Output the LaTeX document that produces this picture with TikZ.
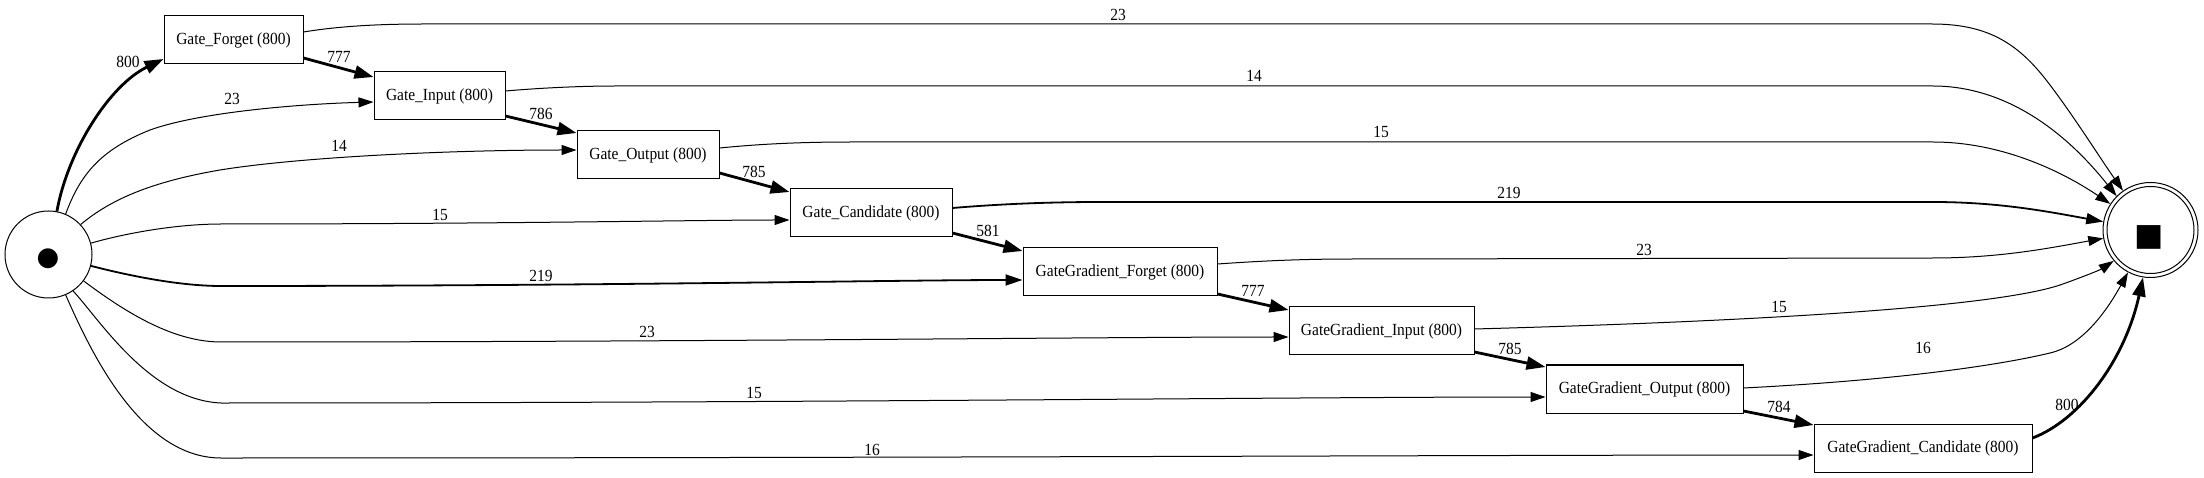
\documentclass[tikz,border=0pt]{standalone}
\usepackage{fontspec}
\setmainfont{Liberation Serif}[FakeStretch=0.91]
\newfontfamily\symfont{DejaVu Sans}
\usetikzlibrary{calc,arrows.meta}
\tikzset{
  bx/.style={draw, line width=1pt, rectangle, minimum height=48pt, inner sep=0pt, minimum width=#1, font=\fontsize{17}{20}\selectfont},
  lb/.style={inner sep=0pt, font=\fontsize{17}{20}\selectfont},
  e/.style={line width=1pt, -{Triangle[length=15pt,width=10pt]}},
  emed/.style={line width=1.8pt, -{Triangle[length=17pt,width=11pt]}},
  ethick/.style={line width=2.8pt, -{Triangle[length=19pt,width=13pt]}},
}
\begin{document}
\begin{tikzpicture}[x=1pt,y=-1pt]
\useasboundingbox (0,0) rectangle (2204,478);
% places
\node[circle, draw, line width=1pt, minimum size=87pt, inner sep=0pt] (start) at (48.5,254.5) {};
\node[inner sep=0pt, font=\symfont\fontsize{26}{26}\selectfont] (dot) at (48,259) {●};
\node[circle, draw, line width=1pt, minimum size=95pt, inner sep=0pt] (end) at (2150.5,230) {};
\node[circle, draw, line width=1pt, minimum size=87pt, inner sep=0pt] (endin) at (2150.5,230) {};
\node[inner sep=0pt, font=\symfont\fontsize{31}{31}\selectfont] (sq) at (2149.5,237) {■};
% activities
\node[bx=139pt] (gf) at (233.5,40) {Gate\_Forget (800)};
\node[bx=131pt] (gi) at (439.5,96) {Gate\_Input (800)};
\node[bx=142pt] (go) at (648,155) {Gate\_Output (800)};
\node[bx=162pt] (gc) at (871,213) {Gate\_Candidate (800)};
\node[bx=194pt] (ggf) at (1120,272) {GateGradient\_Forget (800)};
\node[bx=185pt] (ggi) at (1381.5,331) {GateGradient\_Input (800)};
\node[bx=197pt] (ggo) at (1644.5,389) {GateGradient\_Output (800)};
\node[bx=218pt] (ggc) at (1923,448) {GateGradient\_Candidate (800)};
% edges from start
\draw[ethick] (start.79) .. controls (68,150) and (110,85) .. ($(gf.west)+(0,19)$);
\draw[e] (start.67) .. controls (80,175) and (100,150) .. (150,130) .. controls (200,112) and (300,104) .. ($(gi.west)+(0,6)$);
\draw[e] (start.43) .. controls (110,200) and (150,182) .. (220,170) .. controls (300,157) and (450,150) .. ($(go.west)+(0,-5)$);
\draw[e] (start.15) .. controls (130,232) and (180,224) .. (221,224) .. controls (500,224) and (700,220) .. ($(gc.west)+(0,7)$);
\draw[emed] (start.-15) .. controls (130,276) and (180,286) .. (221,286) .. controls (600,286) and (900,280) .. ($(ggf.west)+(0,8)$);
\draw[e] (start.-37) .. controls (120,308) and (170,342) .. (221,342) .. controls (700,342) and (1100,337) .. ($(ggi.west)+(0,6)$);
\draw[e] (start.-56) .. controls (100,320) and (150,400) .. (221,403) .. controls (800,403) and (1300,397) .. ($(ggo.west)+(0,8)$);
\draw[e] (start.-67) .. controls (90,350) and (140,458) .. (221,458) .. controls (900,458) and (1500,455) .. ($(ggc.west)+(0,7)$);
% chain
\draw[ethick] ($(gf.east)+(0,18)$) -- ($(gi.west)+(0,-19)$);
\draw[ethick] ($(gi.east)+(0,20)$) -- ($(go.west)+(0,-22)$);
\draw[ethick] ($(go.east)+(0,18)$) -- ($(gc.west)+(0,-21)$);
\draw[ethick] ($(gc.east)+(0,20)$) -- ($(ggf.west)+(0,-21)$);
\draw[ethick] ($(ggf.east)+(0,22)$) -- ($(ggi.west)+(0,-21)$);
\draw[ethick] ($(ggi.east)+(0,21)$) -- ($(ggo.west)+(0,-22)$);
\draw[ethick] ($(ggo.east)+(0,22)$) -- ($(ggc.west)+(0,-23)$);
\draw[ethick] ($(ggc.east)+(0,-10)$) .. controls (2080,420) and (2125,360) .. (end.-99);
% edges to end
\draw[e] ($(gf.east)+(0,-8)$) .. controls (340,26) and (380,24) .. (424,24) -- (1932,24) .. controls (1990,24) and (2020,45) .. (2050,85) .. controls (2075,118) and (2100,158) .. (end.125);
\draw[e] ($(gi.east)+(0,-5)$) .. controls (540,88) and (580,86) .. (616,86) -- (1933,86) .. controls (2000,86) and (2060,125) .. (end.135);
\draw[e] ($(go.east)+(0,-7)$) .. controls (760,144) and (800,142) .. (852,142) -- (1933,142) .. controls (2000,142) and (2060,170) .. (end.147);
\draw[emed] ($(gc.east)+(0,-5)$) .. controls (1000,204) and (1050,202) .. (1100,202) -- (1933,202) .. controls (2000,202) and (2050,212) .. (end.170);
\draw[e] ($(ggf.east)+(0,-8)$) .. controls (1260,261) and (1300,259) .. (1353,259) -- (1933,258) .. controls (2000,258) and (2050,248) .. (end.190);
\draw[e] ($(ggi.east)+(0,-2)$) .. controls (1800,320) and (2000,305) .. (2060,285) .. controls (2080,278) and (2100,270) .. (end.-140);
\draw[e] ($(ggo.east)+(0,-1)$) .. controls (1900,380) and (2000,365) .. (2050,353) .. controls (2085,345) and (2110,305) .. (end.-118);
% labels
\node[lb] (l1) at (128,62) {800};
\node[lb] (l2) at (232,99) {23};
\node[lb] (l3) at (339,146) {14};
\node[lb] (l4) at (440,215) {15};
\node[lb] (l5) at (541,276) {219};
\node[lb] (l6) at (647,332) {23};
\node[lb] (l7) at (754,393) {15};
\node[lb] (l8) at (872,450) {16};
\node[lb] (l9) at (339,57) {777};
\node[lb] (l10) at (541,114) {786};
\node[lb] (l11) at (754,172) {785};
\node[lb] (l12) at (988,231) {581};
\node[lb] (l13) at (1253,291) {777};
\node[lb] (l14) at (1510,349) {785};
\node[lb] (l15) at (1779,407) {784};
\node[lb] (l16) at (2067,405) {800};
\node[lb] (l17) at (1118,15) {23};
\node[lb] (l18) at (1254,76) {14};
\node[lb] (l19) at (1381,132) {15};
\node[lb] (l20) at (1509,193) {219};
\node[lb] (l21) at (1644,250) {23};
\node[lb] (l22) at (1779,307) {15};
\node[lb] (l23) at (1923,348) {16};
\end{tikzpicture}
\end{document}
